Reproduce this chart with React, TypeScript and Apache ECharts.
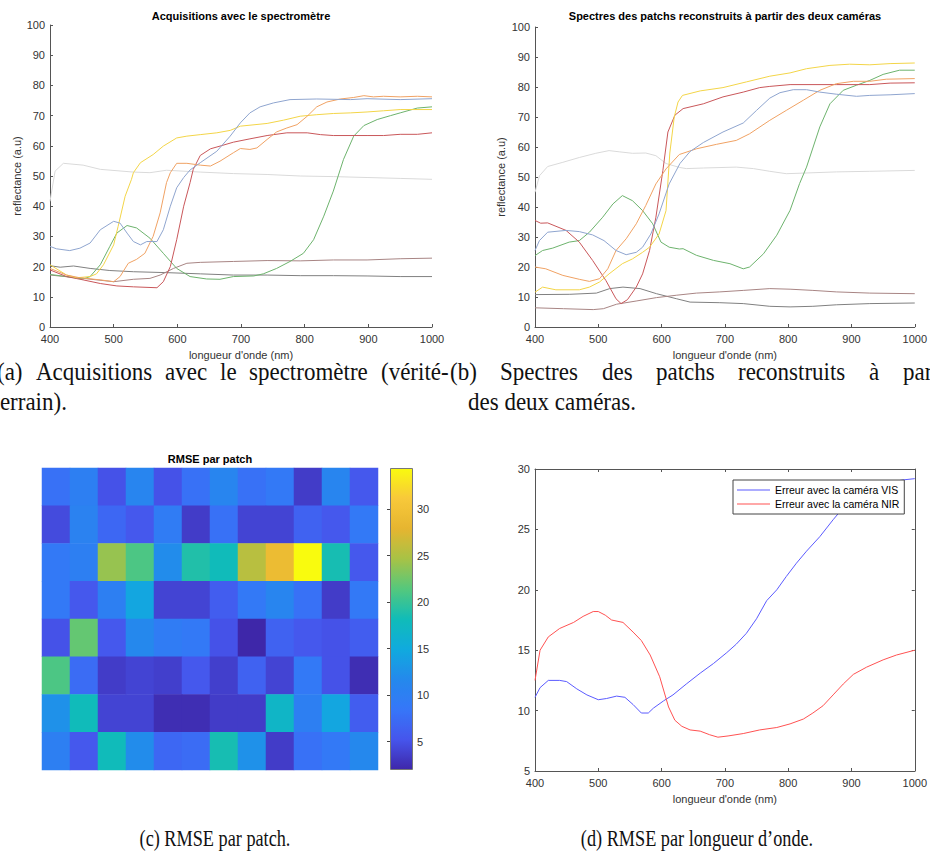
import React, { useEffect, useRef } from "react";
import * as echarts from "echarts";

// ---------- (a) spectrometer acquisitions : [wavelength nm, reflectance] ----------
const A_BLUE = [[400,26.7],[410,25.9],[431,25.3],[447,26.1],[463,27.8],[479,32.2],[500,35],[510,34.4],[521,31.1],[531,28.3],[542,27.2],[552,28.3],[568,28.3],[578,32.2],[589,40],[599,46.1],[610,49.5],[620,52],[636,54.4],[662,58.2],[683,63.2],[699,67.6],[714,70.9],[730,72.9],[751,74.2],[777,75.3],[819,75.5],[872,75.3],[898,75.6],[950,75.3],[1000,75.6]];
const A_ORANGE = [[400,19.4],[426,17.2],[447,16.3],[479,15.6],[500,15],[510,16.7],[523,21.1],[536,22.4],[549,24.4],[562,30],[573,37.8],[583,47.8],[589,51.1],[599,54.2],[615,54.2],[636,53.6],[652,53.3],[667,54.9],[688,57.7],[699,59.1],[714,58.8],[725,59.3],[741,62.1],[756,64.6],[772,65.9],[788,67],[804,69.8],[819,72.9],[835,74.5],[856,75.5],[877,76],[893,76.6],[908,76.2],[924,76.4],[950,76.2],[977,76.4],[1000,76.2]];
const A_YELLOW = [[400,20.6],[426,17.2],[442,16.3],[463,16.7],[473,17.6],[484,20.6],[500,27.2],[507,33.3],[518,43.3],[528,48.9],[531,51.1],[542,54.4],[562,57.1],[578,59.9],[599,62.6],[615,63.2],[636,63.7],[662,64.3],[683,65.1],[699,66.5],[741,67.4],[767,68.5],[793,69.8],[819,70.3],[845,70.7],[872,70.9],[898,71.2],[924,71.6],[950,72],[1000,72]];
const A_RED = [[400,18.9],[426,16.7],[452,15.6],[479,14.4],[505,13.6],[531,13.3],[568,13],[578,15],[589,20],[599,28.9],[610,40],[620,47.8],[625,52.2],[636,56.8],[652,59],[667,59.9],[688,61.2],[714,62.3],[741,63.4],[772,64.3],[804,64.3],[825,63.7],[845,63.4],[898,63.4],[924,63.4],[950,63.8],[977,63.8],[1000,64.3]];
const A_GREEN = [[400,17.4],[426,16.7],[452,15.9],[463,16.7],[479,20.6],[494,26.7],[505,31.1],[521,33.6],[536,32.8],[557,29.4],[578,24.4],[599,19.4],[620,16.7],[646,15.9],[667,15.8],[688,16.7],[720,16.9],[735,17.6],[756,19.4],[777,21.7],[798,24.4],[814,28.9],[830,36.7],[845,45],[861,55.5],[877,63.2],[893,66.7],[914,68.7],[935,70],[950,70.9],[977,72.5],[1000,72.9]];
const A_BROWN = [[400,17.2],[452,16.1],[500,15],[531,15.8],[557,16.1],[573,17.2],[594,19.4],[615,21.1],[636,21.4],[688,21.7],[741,22],[793,21.9],[845,22.2],[898,22.2],[950,22.6],[1000,22.8]];
const A_GREY = [[400,20.3],[416,19.8],[437,20.2],[463,19.4],[494,18.7],[531,18.3],[583,18],[636,17.6],[688,17.2],[741,17.2],[793,17],[845,17],[898,16.9],[950,16.7],[1000,16.7]];
const A_LIGHT = [[400,41.6],[408,51.6],[421,54.2],[452,53.6],[479,52.2],[531,51.3],[557,51.1],[583,51.9],[636,51.3],[688,50.8],[741,50.5],[793,50],[845,49.8],[898,49.5],[950,49.2],[1000,48.9]];

// ---------- (b) reconstructed spectra ----------
const B_LIGHT = [[400,44.9],[407,50.4],[420,53.5],[444,54.9],[470,56.5],[496,57.9],[517,58.8],[533,58.4],[554,57.9],[575,58],[591,57.1],[607,54.5],[628,53.2],[639,52.8],[666,53],[718,53.3],[745,52.8],[771,51.9],[797,51.1],[824,51.3],[876,51.7],[929,51.9],[1000,52.2]];
const B_YELLOW = [[400,11.6],[412,13.3],[433,12.4],[470,12.4],[486,13.3],[502,15],[517,17.7],[538,21.1],[554,22.7],[570,24.9],[581,26.6],[596,31],[607,38.8],[613,58],[620,70],[626,75],[633,77.2],[661,78.7],[697,79.8],[734,81.7],[771,83.6],[803,84.7],[829,86.1],[866,87.2],[897,87.6],[929,87.4],[961,87.8],[1000,88]];
const B_RED = [[400,35.5],[409,34.6],[420,34.7],[449,32.2],[470,28.3],[491,22.2],[512,15.5],[528,9.4],[536,7.8],[546,9.1],[560,13.3],[570,17.7],[581,25.5],[591,36.6],[602,52.1],[610,65],[621,70.6],[634,72.8],[666,74.4],[697,76.7],[729,78.3],[755,79.8],[771,80.2],[803,80.8],[876,80.8],[929,80.8],[961,81.3],[1000,81.4]];
const B_ORANGE = [[400,20],[417,19.4],[444,17.2],[470,15.9],[486,15.2],[502,16.1],[515,19.4],[528,25.5],[544,29.4],[560,34.4],[575,40.5],[591,47.7],[607,52.7],[628,57.5],[655,59.4],[687,60.9],[718,62.2],[739,64.4],[771,68.9],[797,72.2],[824,75.6],[850,78.9],[876,81.1],[903,81.9],[929,81.9],[955,82.6],[1000,82.8]];
const B_BLUE = [[400,25.5],[407,28.8],[420,31.6],[449,32.2],[470,31.8],[491,30.7],[509,28.8],[528,25.5],[544,24.1],[560,24.9],[570,26.6],[583,31],[596,37.7],[612,47.7],[629,54.5],[645,58.5],[666,61.5],[697,65],[729,68],[750,72.2],[771,76.3],[787,78.1],[808,79.1],[829,79.1],[850,78.3],[876,77.6],[908,76.9],[929,77.2],[961,77.4],[1000,77.8]];
const B_GREEN = [[400,23.8],[412,25.5],[428,26.3],[454,28.3],[470,28.8],[486,31.6],[507,36.6],[523,41],[538,43.8],[554,42.1],[570,38.8],[586,34.4],[599,28.3],[612,26.6],[628,26],[634,26.1],[655,23.9],[682,22.2],[708,21.1],[729,19.4],[739,20],[761,24.4],[782,30.6],[803,38.9],[818,47.8],[829,53.3],[850,66.7],[866,74.4],[887,78.9],[908,80.6],[929,82.2],[950,84.2],[976,85.6],[1000,85.6]];
const B_BROWN = [[400,6.4],[445,6.1],[492,5.8],[508,6.1],[529,7.6],[561,8.7],[592,9.8],[624,10.6],[655,11.3],[692,11.7],[729,12.2],[771,12.8],[803,12.6],[839,12.2],[876,11.7],[929,11.3],[1000,11.1]];
const B_GREY = [[400,10.8],[455,10.9],[497,11.3],[518,12.8],[539,13.3],[566,12.8],[592,11.1],[624,9.4],[645,8.3],[692,8.1],[729,7.8],[771,6.9],[803,6.7],[839,6.9],[876,7.4],[929,7.8],[1000,8]];

// ---------- (c) RMSE per patch (8 rows x 12 columns) ----------
const HEAT_COLS = ["1","2","3","4","5","6","7","8","9","10","11","12"];
const HEAT_ROWS = ["1","2","3","4","5","6","7","8"];
const HEAT_R1 = [8, 10, 5, 11, 5, 8, 11, 8, 9, 3.5, 11, 5.5];
const HEAT_R2 = [4.5, 10.5, 7, 5.5, 9.5, 3.5, 8, 4, 4, 6.5, 5.5, 9];
const HEAT_R3 = [9, 10, 24, 21, 12, 19, 18, 25.5, 29, 34.4, 18.5, 5.5];
const HEAT_R4 = [9, 5.5, 10, 14.5, 4, 4, 6, 9, 11, 8, 3.5, 9];
const HEAT_R5 = [5, 22, 5.5, 11.5, 9.5, 9, 5, 2.0, 6.5, 5.5, 5, 6];
const HEAT_R6 = [21, 7.5, 3.5, 4, 3.7, 5.5, 3.7, 6.5, 4, 9, 5, 2.5];
const HEAT_R7 = [12.5, 18, 4, 4, 2.5, 2.5, 3.5, 3.5, 17, 10, 14.5, 6];
const HEAT_R8 = [10, 5.5, 18, 12, 7, 7.5, 18.5, 12.5, 3.5, 8, 9, 11.5];
const HEAT_MIN = 1.96;
const HEAT_MAX = 34.4;
const COLORBAR_TICKS = [5, 10, 15, 20, 25, 30];

// ---------- (d) RMSE per wavelength ----------
const D_VIS = [[400,11.1],[408,11.9],[421,12.5],[439,12.5],[450,12.4],[466,11.8],[482,11.3],[500,10.9],[513,11],[529,11.2],[542,11.1],[555,10.5],[568,9.8],[579,9.8],[587,10.2],[603,10.8],[618,11.3],[639,12.2],[661,13.1],[682,13.9],[703,14.8],[718,15.5],[734,16.4],[750,17.6],[766,19.1],[782,20],[797,21.1],[813,22.2],[829,23.2],[850,24.4],[871,25.8],[887,26.8],[903,27.6],[930,28.4],[960,28.9],[982,29.1],[1000,29.2]];
const D_NIR = [[400,12.5],[408,15],[421,16.1],[439,16.8],[461,17.3],[476,17.8],[492,18.2],[500,18.2],[511,17.9],[521,17.5],[539,17.3],[555,16.5],[568,15.8],[582,14.6],[597,12.8],[611,10.3],[621,9.2],[632,8.7],[645,8.4],[661,8.3],[676,8],[689,7.8],[705,7.9],[729,8.1],[755,8.4],[782,8.6],[803,8.9],[824,9.3],[839,9.8],[855,10.4],[871,11.3],[887,12.2],[903,13],[924,13.6],[950,14.2],[971,14.6],[1000,15]];
const VIS_NAME = "Erreur avec la caméra VIS";
const NIR_NAME = "Erreur avec la caméra NIR";

// ---------- captions (words of justified lines) ----------
const CAP_A1 = ["(a)", "Acquisitions", "avec", "le", "spectromètre", "(vérité-"];
const CAP_A2 = "terrain).";
const CAP_B1 = ["(b)", "Spectres", "des", "patchs", "reconstruits", "à", "partir"];
const CAP_B2 = "des deux caméras.";
const CAP_C = "(c) RMSE par patch.";
const CAP_D = "(d) RMSE par longueur d\u2019onde.";
const CAP_A1_X = [-3, 36, 165, 220, 249, 381];
const CAP_B1_X = [450, 500, 602, 656, 738, 869, 903];

const SANS = "'Liberation Sans', Arial, Helvetica, sans-serif";
const SERIF = "'Liberation Serif', 'Times New Roman', serif";
const AXIS_COLOR = "#555";
const LABEL_COLOR = "#333";

const C_BLUE = "#8fa5cf";
const C_ORANGE = "#f0a264";
const C_YELLOW = "#f3d548";
const C_RED = "#c9575a";
const C_GREEN = "#6db36d";
const C_BROWN = "#a88584";
const C_GREY = "#808080";
const C_LIGHT = "#dadada";

const PARULA = ["#3e26a8", "#4655ec", "#3676f8", "#2489ec", "#10aade", "#10bcb8", "#55c87c", "#a8c245", "#e6b530", "#f8c93a", "#f9fb0e"];

const TOP_CAP_SIZE = 25;
const TOP_CAP_SCALE = 0.92;
const BOT_CAP_SIZE = 24;
const BOT_CAP_SCALE = 0.76;

function lineSeries(data: number[][], color: string, axis: number, name?: string) {
  return {
    type: "line", name, data, xAxisIndex: axis, yAxisIndex: axis,
    showSymbol: false, symbol: "none", silent: true,
    lineStyle: { width: 1, color }, itemStyle: { color },
  };
}

const plainNum = (v: number) => String(v);

function waveAxis(gridIndex: number, withName: boolean, position = "bottom") {
  return {
    type: "value", gridIndex, position, min: 400, max: 1000, interval: 100,
    name: withName ? "longueur d'onde (nm)" : "",
    nameLocation: "middle", nameGap: 22,
    nameTextStyle: { fontSize: 11, fontFamily: SANS, color: LABEL_COLOR },
    axisLine: { show: true, onZero: false, lineStyle: { color: AXIS_COLOR, width: 1 } },
    axisTick: { show: true, inside: true, length: 3, lineStyle: { color: AXIS_COLOR } },
    axisLabel: { show: position === "bottom", fontSize: 11, fontFamily: SANS, color: LABEL_COLOR, margin: 6, formatter: plainNum },
    splitLine: { show: false },
  };
}

function valAxis(gridIndex: number, min: number, max: number, interval: number, name: string, nameGap: number, position = "left", labels = true) {
  return {
    type: "value", gridIndex, position, min, max, interval,
    name, nameLocation: "middle", nameGap,
    nameTextStyle: { fontSize: 11, fontFamily: SANS, color: LABEL_COLOR },
    axisLine: { show: true, onZero: false, lineStyle: { color: AXIS_COLOR, width: 1 } },
    axisTick: { show: true, inside: true, length: 3, lineStyle: { color: AXIS_COLOR } },
    axisLabel: { show: labels, fontSize: 11, fontFamily: SANS, color: LABEL_COLOR, margin: 5, formatter: plainNum },
    splitLine: { show: false },
  };
}

function txt(x: number, y: number, text: string, opts: any = {}) {
  const align = opts.align || "left";
  return {
    type: "text", x, y, silent: true, z: 100,
    scaleX: opts.scaleX || 1,
    style: {
      text, fill: opts.fill || "#000",
      fontSize: opts.fontSize || 11, fontFamily: opts.fontFamily || SANS,
      fontWeight: opts.fontWeight || "normal",
      align, textAlign: align, verticalAlign: "middle", textVerticalAlign: "middle",
    },
  };
}

function topCap(x: number, y: number, text: string) {
  return txt(x, y, text, { fontFamily: SERIF, fontSize: TOP_CAP_SIZE, scaleX: TOP_CAP_SCALE, fill: "#111" });
}
function botCap(x: number, y: number, text: string) {
  return txt(x, y, text, { fontFamily: SERIF, fontSize: BOT_CAP_SIZE, scaleX: BOT_CAP_SCALE, align: "center", fill: "#111" });
}

export default function App() {
  const ref = useRef<HTMLDivElement>(null);
  useEffect(() => {
    if (!ref.current) return;
    const chart = echarts.init(ref.current, null, { renderer: "svg" });
    const heatRows = [HEAT_R1, HEAT_R2, HEAT_R3, HEAT_R4, HEAT_R5, HEAT_R6, HEAT_R7, HEAT_R8];
    const heatData: number[][] = [];
    heatRows.forEach((row, r) => row.forEach((v, c) => heatData.push([c, r, v])));

    const captions: any[] = [];
    CAP_A1.forEach((w, i) => captions.push(topCap(CAP_A1_X[i], 372, w)));
    captions.push(topCap(-6.5, 402, CAP_A2));
    CAP_B1.forEach((w, i) => captions.push(topCap(CAP_B1_X[i], 372, w)));
    captions.push(topCap(468, 402, CAP_B2));
    captions.push(botCap(215, 838, CAP_C));
    captions.push(botCap(697, 838, CAP_D));

    const option: any = {
      animation: false,
      backgroundColor: "#fff",
      textStyle: { fontFamily: SANS },
      grid: [
        { left: 50, top: 25, width: 382, height: 302 },
        { left: 535, top: 27, width: 380, height: 300 },
        { left: 42, top: 468, width: 336, height: 302 },
        { left: 535, top: 469, width: 380, height: 302 },
        { left: 390, top: 468, width: 23, height: 302 },
      ],
      xAxis: [
        waveAxis(0, true),
        waveAxis(1, true),
        { type: "category", gridIndex: 2, data: HEAT_COLS, show: false },
        waveAxis(3, true),
        waveAxis(3, false, "top"),
        { type: "value", gridIndex: 4, show: false, min: 0, max: 1 },
      ],
      yAxis: [
        valAxis(0, 0, 100, 10, "reflectance (a.u)", 28),
        valAxis(1, 0, 100, 10, "reflectance (a.u)", 29),
        { type: "category", gridIndex: 2, data: HEAT_ROWS, inverse: true, show: false },
        valAxis(3, 5, 30, 5, "", 0),
        valAxis(3, 5, 30, 5, "", 0, "right", false),
        {
          type: "value", gridIndex: 4, position: "right", min: HEAT_MIN, max: HEAT_MAX,
          axisLine: { show: false },
          axisTick: { show: true, inside: true, length: 3, customValues: COLORBAR_TICKS, lineStyle: { color: "#444" } },
          axisLabel: { show: true, customValues: COLORBAR_TICKS, fontSize: 11, fontFamily: SANS, color: LABEL_COLOR, margin: 4 },
          splitLine: { show: false },
        },
      ],
      visualMap: {
        type: "continuous", min: HEAT_MIN, max: HEAT_MAX, seriesIndex: 16,
        inRange: { color: PARULA }, show: true, calculable: false, hoverLink: false,
        left: 390, top: 468, itemWidth: 23, itemHeight: 302, padding: 0, text: null,
        orient: "vertical",
      },
      legend: {
        data: [{ name: VIS_NAME, icon: "rect" }, { name: NIR_NAME, icon: "rect" }],
        orient: "vertical", left: 733, top: 480,
        padding: [4, 5, 4, 4], itemGap: 2, itemWidth: 33, itemHeight: 1,
        backgroundColor: "#fff", borderColor: "#444", borderWidth: 1, borderRadius: 0,
        selectedMode: false,
        textStyle: { fontSize: 10.5, fontFamily: SANS, color: "#000", lineHeight: 12 },
      },
      series: [
        lineSeries(A_LIGHT, C_LIGHT, 0),
        lineSeries(A_GREY, C_GREY, 0),
        lineSeries(A_BROWN, C_BROWN, 0),
        lineSeries(A_GREEN, C_GREEN, 0),
        lineSeries(A_RED, C_RED, 0),
        lineSeries(A_YELLOW, C_YELLOW, 0),
        lineSeries(A_ORANGE, C_ORANGE, 0),
        lineSeries(A_BLUE, C_BLUE, 0),
        lineSeries(B_LIGHT, C_LIGHT, 1),
        lineSeries(B_GREY, C_GREY, 1),
        lineSeries(B_BROWN, C_BROWN, 1),
        lineSeries(B_GREEN, C_GREEN, 1),
        lineSeries(B_RED, C_RED, 1),
        lineSeries(B_YELLOW, C_YELLOW, 1),
        lineSeries(B_ORANGE, C_ORANGE, 1),
        lineSeries(B_BLUE, C_BLUE, 1),
        {
          type: "heatmap", xAxisIndex: 2, yAxisIndex: 2, data: heatData, silent: true,
          itemStyle: { borderWidth: 0 },
        },
        { ...lineSeries(D_VIS, "#5b5bff", 3, VIS_NAME), xAxisIndex: 3, yAxisIndex: 3 },
        { ...lineSeries(D_NIR, "#ff5252", 3, NIR_NAME), xAxisIndex: 3, yAxisIndex: 3 },
      ],
      graphic: [
        txt(241, 16, "Acquisitions avec le spectromètre", { align: "center", fontWeight: "bold" }),
        txt(725, 16, "Spectres des patchs reconstruits à partir des deux caméras", { align: "center", fontWeight: "bold" }),
        txt(210, 459, "RMSE par patch", { align: "center", fontWeight: "bold" }),
        {
          type: "rect", silent: true, z: 100,
          shape: { x: 390.5, y: 468.5, width: 22, height: 301 },
          style: { fill: "none", stroke: "#777", lineWidth: 1 },
        },
        ...captions,
      ],
    };
    chart.setOption(option);
    return () => chart.dispose();
  }, []);
  return (
    <div
      ref={ref}
      style={{ position: "absolute", left: 0, top: 0, width: 930, height: 853, background: "#fff" }}
    />
  );
}
